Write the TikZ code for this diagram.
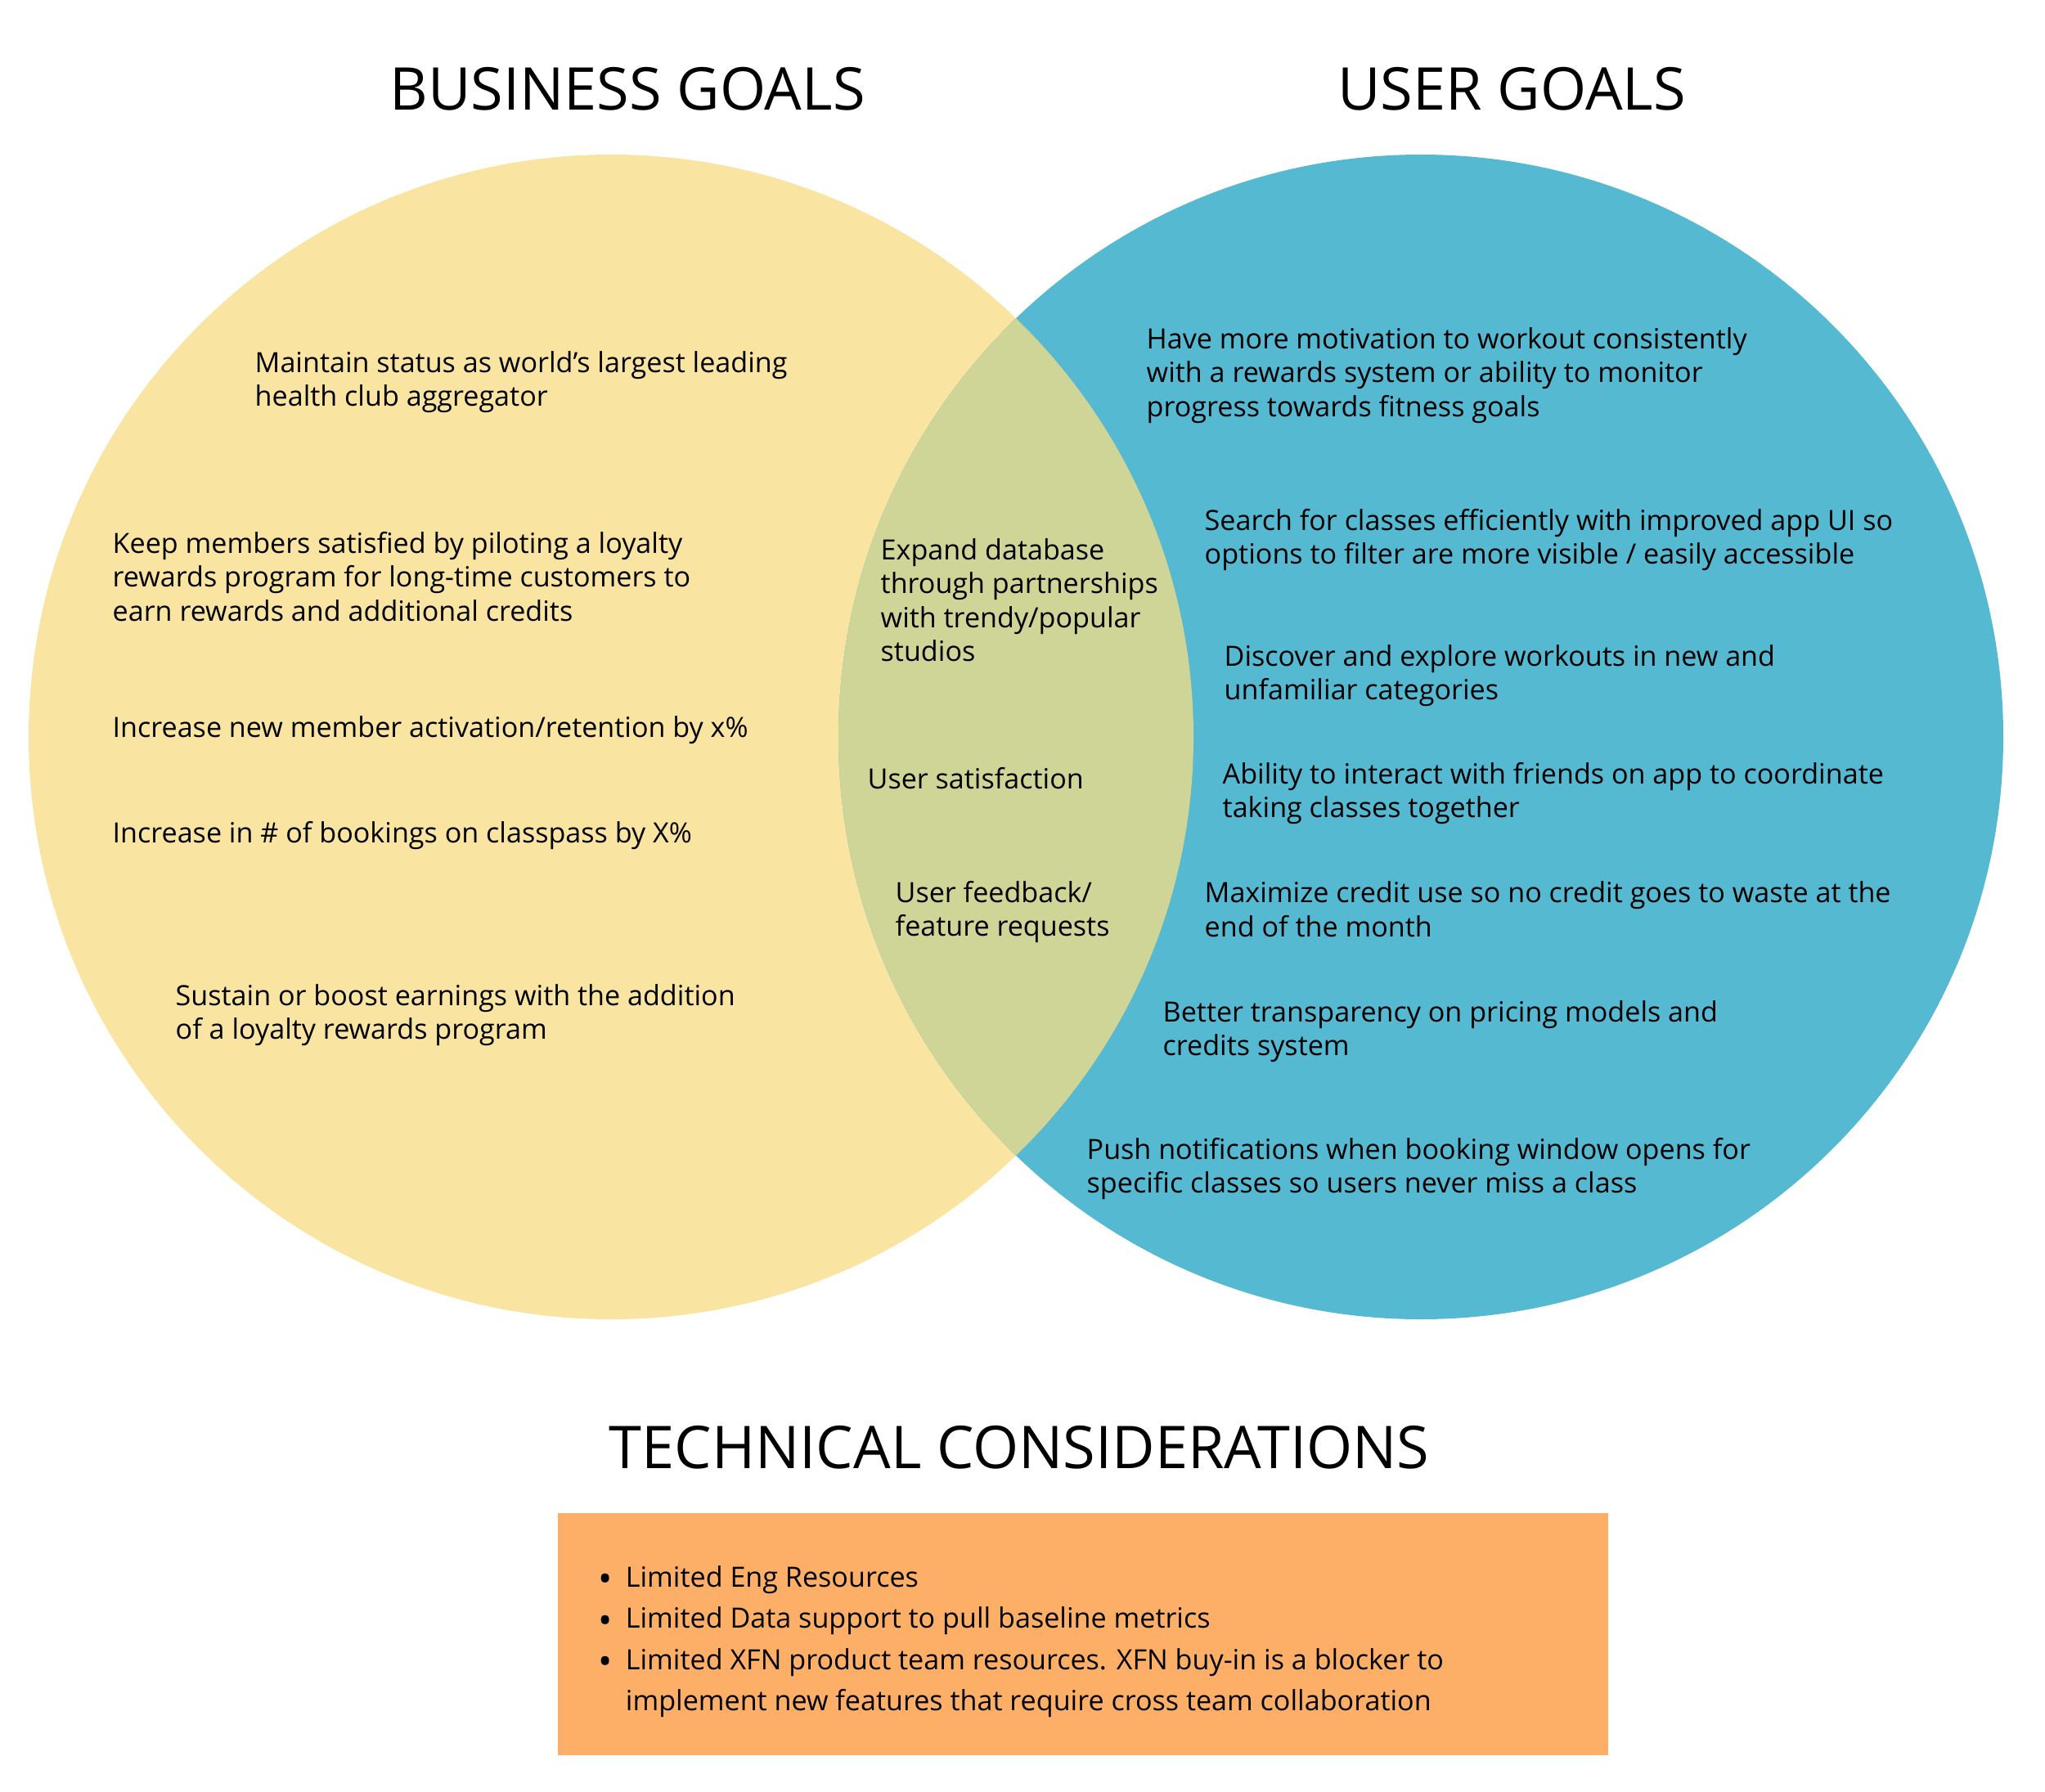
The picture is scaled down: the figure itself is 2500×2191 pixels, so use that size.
\documentclass[tikz,border=0pt]{standalone}
\usepackage{fontspec}
\setmainfont{Open Sans}
\usepackage{xcolor}
\usetikzlibrary{positioning}

\definecolor{bizyellow}{HTML}{F9E4A2}
\definecolor{userblue}{HTML}{55B9D2}
\definecolor{bothgreen}{HTML}{CFD597}
\definecolor{techorange}{HTML}{FDAF67}

\newcommand{\techdot}{\raisebox{-0.35ex}{\fontsize{13}{14}\selectfont\textbullet}}

\begin{document}
\begin{tikzpicture}[
    x=0.01cm, y=-0.01cm,
    headtxt/.style={inner sep=0pt, font=\fontsize{20.5}{24}\selectfont},
    goaltxt/.style={anchor=west, align=left, inner sep=0pt, yshift=-1.4pt, font=\fontsize{9.7}{11.8}\selectfont},
    techbox/.style={rectangle, fill=techorange, minimum width=12.84cm, minimum height=2.95cm, inner sep=0pt}
]
\useasboundingbox (0,0) rectangle (2500,2191);

% venn circles
\fill[bizyellow] (747,901) circle[radius=712];
\fill[userblue] (1737,901) circle[radius=712];
\begin{scope}
  \clip (747,901) circle[radius=712];
  \fill[bothgreen] (1737,901) circle[radius=712];
\end{scope}

\node[headtxt] (bizhead) at (767,109) {BUSINESS GOALS};
\node[headtxt] (userhead) at (1848,109) {USER GOALS};

% business goals
\node[goaltxt] (biz1) at (311,462) {Maintain status as world’s largest leading\\health club aggregator};
\node[goaltxt] (biz2) at (137,700) {Keep members satisfied by piloting a loyalty\\rewards program for long-time customers to\\earn rewards and additional credits};
\node[goaltxt] (biz3) at (137,888) {Increase new member activation/retention by x\%};
\node[goaltxt] (biz4) at (137,1017) {Increase in \# of bookings on classpass by X\%};
\node[goaltxt] (biz5) at (214,1236) {Sustain or boost earnings with the addition\\of a loyalty rewards program};

% shared goals
\node[goaltxt] (both1) at (1076,729) {Expand database\\through partnerships\\with trendy/popular\\studios};
\node[goaltxt] (both2) at (1060,947) {User satisfaction};
\node[goaltxt] (both3) at (1094,1110) {User feedback/\\feature requests};

% user goals
\node[goaltxt] (user1) at (1401,454) {Have more motivation to workout consistently\\with a rewards system or ability to monitor\\progress towards fitness goals};
\node[goaltxt] (user2) at (1472,655) {Search for classes efficiently with improved app UI so\\options to filter are more visible / easily accessible};
\node[goaltxt] (user3) at (1496,821) {Discover and explore workouts in new and\\unfamiliar categories};
\node[goaltxt] (user4) at (1494,965) {Ability to interact with friends on app to coordinate\\taking classes together};
\node[goaltxt] (user5) at (1472,1107) {Maximize credit use so no credit goes to waste at the\\end of the month};
\node[goaltxt] (user6) at (1421,1256) {Better transparency on pricing models and\\credits system};
\node[goaltxt] (user7) at (1328,1424) {Push notifications when booking window opens for\\specific classes so users never miss a class};

% technical considerations
\node[techbox] (tech) at (1324,1998) {};
\node[headtxt] (techhead) at (1246,1770) {TECHNICAL CONSIDERATIONS};
\node[goaltxt, font=\fontsize{9.7}{14.3}\selectfont] (techlist) at (731,2001) {%
  \begin{tabular}{@{}l@{\hspace{1.6mm}}l@{}}
  \techdot & Limited Eng Resources\\
  \techdot & Limited Data support to pull baseline metrics\\
  \techdot & Limited XFN product team resources. XFN buy-in is a blocker to\\
   & implement new features that require cross team collaboration
  \end{tabular}};

\end{tikzpicture}
\end{document}
